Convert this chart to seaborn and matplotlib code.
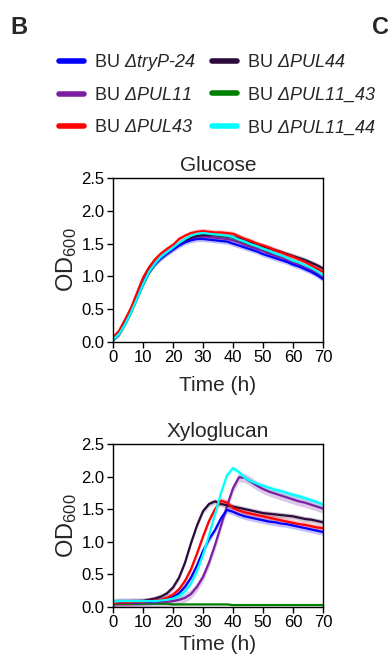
import numpy as np
import pandas as pd
import matplotlib
matplotlib.use("Agg")
import matplotlib.pyplot as plt
import seaborn as sns
from matplotlib.lines import Line2D

# ---------------- data ----------------
time_h = list(range(0, 71, 2))

strains = ["tryP-24", "PUL11", "PUL43", "PUL44", "PUL11_43", "PUL11_44"]
legend_labels = [
    "BU $\\mathsf{ΔtryP‐24}$",
    "BU $\\mathsf{ΔPUL11}$",
    "BU $\\mathsf{ΔPUL43}$",
    "BU $\\mathsf{ΔPUL44}$",
    "BU $\\mathsf{ΔPUL11\\_43}$",
    "BU $\\mathsf{ΔPUL11\\_44}$",
]
colors = {
    "tryP-24": "#0000ff",
    "PUL11": "#7b1fa2",
    "PUL43": "#ff0000",
    "PUL44": "#2d0a3c",
    "PUL11_43": "#008000",
    "PUL11_44": "#00ffff",
}
draw_order = ["PUL11_43", "PUL11", "PUL44", "tryP-24", "PUL43", "PUL11_44"]

glucose = {
    "PUL43": [.07, .17, .34, .52, .75, .98, 1.14, 1.26, 1.35, 1.42, 1.48, 1.57, 1.62, 1.66, 1.68, 1.69, 1.68, 1.67,
              1.67, 1.66, 1.65, 1.61, 1.57, 1.54, 1.50, 1.47, 1.44, 1.40, 1.37, 1.33, 1.30, 1.26, 1.22, 1.17, 1.12, 1.07],
    "PUL11_44": [.04, .12, .27, .45, .66, .88, 1.07, 1.20, 1.30, 1.37, 1.44, 1.51, 1.57, 1.62, 1.65, 1.66, 1.65, 1.64,
                 1.63, 1.62, 1.60, 1.56, 1.53, 1.49, 1.46, 1.42, 1.39, 1.35, 1.32, 1.28, 1.24, 1.21, 1.17, 1.13, 1.08, 1.02],
    "PUL44": [.05, .13, .29, .47, .68, .90, 1.08, 1.20, 1.29, 1.36, 1.43, 1.50, 1.55, 1.59, 1.62, 1.63, 1.63, 1.63,
              1.62, 1.61, 1.60, 1.58, 1.55, 1.52, 1.49, 1.46, 1.43, 1.40, 1.37, 1.34, 1.31, 1.28, 1.25, 1.21, 1.17, 1.12],
    "PUL11": [.05, .13, .30, .48, .69, .91, 1.09, 1.21, 1.30, 1.37, 1.43, 1.50, 1.55, 1.58, 1.60, 1.61, 1.60, 1.59,
              1.58, 1.57, 1.55, 1.52, 1.48, 1.45, 1.42, 1.39, 1.35, 1.32, 1.29, 1.25, 1.21, 1.18, 1.14, 1.10, 1.05, 1.00],
    "tryP-24": [.05, .13, .29, .47, .68, .89, 1.07, 1.19, 1.28, 1.35, 1.41, 1.47, 1.52, 1.55, 1.57, 1.57, 1.56, 1.55,
                1.54, 1.53, 1.50, 1.47, 1.44, 1.41, 1.38, 1.34, 1.31, 1.28, 1.25, 1.22, 1.18, 1.15, 1.11, 1.07, 1.02, .96],
    "PUL11_43": [.04, .12, .27, .45, .66, .87, 1.06, 1.19, 1.29, 1.36, 1.43, 1.50, 1.56, 1.60, 1.63, 1.64, 1.64, 1.63,
                 1.62, 1.61, 1.59, 1.55, 1.52, 1.48, 1.45, 1.41, 1.38, 1.34, 1.31, 1.27, 1.23, 1.20, 1.16, 1.12, 1.07, 1.01],
}
glucose_sd = {"PUL43": .04, "PUL11_44": .03, "PUL44": .04, "PUL11": .04, "tryP-24": .04, "PUL11_43": .03}

xyloglucan = {
    "PUL44": [.06, .07, .07, .08, .08, .09, .11, .13, .16, .21, .30, .45, .68, .98, 1.25, 1.47, 1.58, 1.62,
              1.58, 1.56, 1.54, 1.52, 1.50, 1.48, 1.46, 1.44, 1.43, 1.42, 1.41, 1.40, 1.39, 1.37, 1.35, 1.34, 1.32, 1.30],
    "PUL43": [.06, .07, .07, .07, .08, .08, .09, .10, .11, .14, .19, .27, .40, .58, .82, 1.08, 1.32, 1.50,
              1.63, 1.60, 1.52, 1.48, 1.45, 1.43, 1.41, 1.39, 1.37, 1.35, 1.33, 1.31, 1.29, 1.27, 1.26, 1.24, 1.22, 1.21],
    "tryP-24": [.06, .07, .07, .07, .07, .08, .08, .09, .10, .12, .15, .21, .31, .45, .64, .86, 1.04, 1.18,
                1.36, 1.49, 1.46, 1.42, 1.39, 1.37, 1.35, 1.33, 1.31, 1.30, 1.28, 1.27, 1.25, 1.23, 1.21, 1.19, 1.17, 1.15],
    "PUL11_44": [.08, .09, .09, .09, .09, .09, .09, .09, .10, .11, .13, .17, .24, .36, .55, .80, 1.10, 1.42,
                 1.75, 2.02, 2.13, 2.07, 1.98, 1.93, 1.89, 1.86, 1.83, 1.80, 1.78, 1.75, 1.72, 1.70, 1.67, 1.64, 1.61, 1.57],
    "PUL11": [.06, .07, .07, .07, .07, .07, .07, .07, .08, .08, .09, .11, .14, .20, .31, .46, .68, .95,
              1.25, 1.55, 1.82, 1.99, 1.98, 1.92, 1.86, 1.81, 1.77, 1.74, 1.71, 1.68, 1.65, 1.62, 1.60, 1.57, 1.54, 1.51],
    "PUL11_43": [.05, .05, .05, .05, .05, .05, .05, .05, .05, .05, .04, .04, .04, .04, .04, .04, .04, .04,
                 .04, .04, .03, .03, .03, .03, .03, .03, .03, .03, .03, .03, .03, .03, .03, .03, .03, .03],
}
xyloglucan_sd = {"PUL44": .04, "PUL43": .05, "tryP-24": .05, "PUL11_44": .04, "PUL11": .07, "PUL11_43": .01}

panels = [("Glucose", glucose, glucose_sd, 8), ("Xyloglucan", xyloglucan, xyloglucan_sd, 3)]
x_ticks = [0, 10, 20, 30, 40, 50, 60, 70]
y_ticks = [0.0, 0.5, 1.0, 1.5, 2.0, 2.5]

# ---------------- style ----------------
sns.set_style("ticks")
plt.rcParams["font.family"] = ["Liberation Sans", "DejaVu Sans"]
plt.rcParams["mathtext.fontset"] = "custom"
plt.rcParams["mathtext.rm"] = "Liberation Sans"
plt.rcParams["mathtext.it"] = "Liberation Sans:italic"
plt.rcParams["mathtext.sf"] = "Liberation Sans:italic"
plt.rcParams["mathtext.bf"] = "Liberation Sans:bold"

W, H = 388, 657
fig = plt.figure(figsize=(W / 100, H / 100), dpi=100)

def ax_rect(l, t, r, b):
    return [l / W, 1 - b / H, (r - l) / W, (b - t) / H]

axes = [fig.add_axes(ax_rect(113, 178, 323, 342)),
        fig.add_axes(ax_rect(113, 444, 323, 607))]

for ax, (title, data, sd, xpad) in zip(axes, panels):
    rows = []
    for s in strains:
        for t, v in zip(time_h, data[s]):
            rows.append({"Time": t, "OD": v, "Strain": s})
    df = pd.DataFrame(rows)
    for s in draw_order:
        y = np.array(data[s])
        ax.fill_between(time_h, y - sd[s], y + sd[s], color=colors[s], alpha=0.25, lw=0)
    sns.lineplot(data=df, x="Time", y="OD", hue="Strain", hue_order=draw_order,
                 palette=colors, linewidth=1.6, ax=ax, legend=False)
    ax.set_xlim(0, 70)
    ax.set_ylim(0, 2.5)
    ax.set_xticks(x_ticks)
    ax.set_yticks(y_ticks)
    ax.set_yticklabels([f"{v:.1f}" for v in y_ticks])
    ax.tick_params(labelsize=12, length=4, width=1, pad=2, colors="black")
    for sp in ax.spines.values():
        sp.set_visible(True)
        sp.set_linewidth(1.0)
        sp.set_color("black")
    ax.set_title(title, fontsize=15, pad=5)
    ax.set_xlabel("Time (h)", fontsize=15, labelpad=xpad)
    ax.set_ylabel("$\\mathrm{OD_{600}}$", fontsize=17, labelpad=2)

handles = [Line2D([0], [0], color=colors[s], lw=4) for s in strains]
fig.legend(handles, legend_labels, ncol=2, loc="upper left",
           bbox_to_anchor=(59 / W, 1 - 52 / H), frameon=False, fontsize=13,
           handlelength=1.4, handletextpad=0.55, columnspacing=0.9,
           labelspacing=0.8, borderpad=0, borderaxespad=0)

fig.text(10 / W, 1 - 27 / H, "B", fontsize=17, fontweight="bold", va="center", ha="left")
fig.text(372 / W, 1 - 27 / H, "C", fontsize=17, fontweight="bold", va="center", ha="left")

fig.savefig("out.png", dpi=100)
